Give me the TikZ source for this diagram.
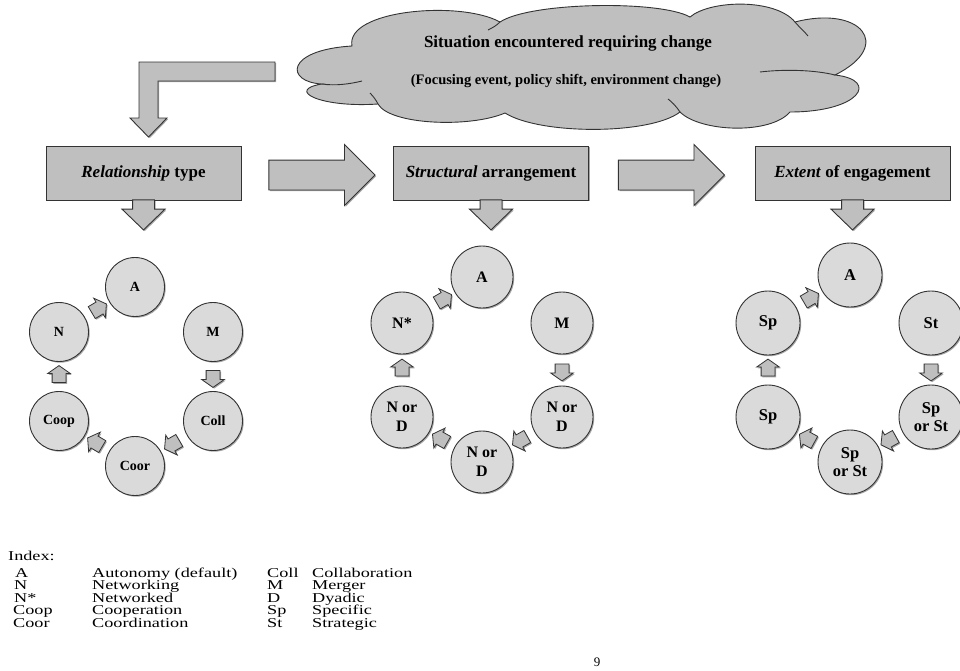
\documentclass[tikz,border=0pt]{standalone}
\usepackage{fontspec}
\setmainfont{Liberation Serif}
\newfontfamily\idxfont[FakeStretch=1.35]{Liberation Serif}
\usetikzlibrary{shapes.arrows,shadows}
\definecolor{boxgray}{HTML}{BFBFBF}
\definecolor{circgray}{HTML}{DADADA}
\definecolor{edge}{HTML}{333333}
\begin{document}
\begin{tikzpicture}[x=1pt,y=-1pt,
  shade/.style={drop shadow={shadow xshift=1.2pt,shadow yshift=-1.2pt,opacity=0.35,fill=black}},
  stagebox/.style={draw=edge, line width=0.9pt, fill=boxgray, minimum width=195pt, minimum height=54pt,
    inner sep=0pt, font=\fontsize{17}{20}\selectfont\bfseries, shade},
  bigright/.style={single arrow, draw=edge, line width=0.9pt, fill=boxgray, minimum height=106pt,
    inner xsep=0pt, inner ysep=14.5pt, single arrow head extend=15.5pt, single arrow tip angle=90, shade},
  bigdown/.style={single arrow, draw=edge, line width=0.9pt, fill=boxgray, minimum height=30pt,
    inner xsep=0pt, inner ysep=10.5pt, single arrow head extend=10.5pt, single arrow tip angle=92,
    rotate=-90, anchor=tail, shade},
  smallarr/.style={single arrow, draw=edge, line width=0.8pt, fill=boxgray, minimum height=17pt,
    inner xsep=0pt, inner ysep=6.5pt, single arrow head extend=4.5pt, single arrow tip angle=110,
    sloped, allow upside down, midway, shade},
  circA/.style={circle, draw=edge, line width=0.9pt, fill=circgray, inner sep=0pt, align=center,
    minimum size=59pt, font=\fontsize{14}{17}\selectfont\bfseries, shade},
  circB/.style={circA, minimum size=62pt, font=\fontsize{16}{19}\selectfont\bfseries},
  circC/.style={circA, minimum size=64pt, font=\fontsize{16.5}{18}\selectfont\bfseries},
  idx/.style={anchor=base west, inner sep=0pt, font=\idxfont\fontsize{13.5}{15}\selectfont}
]
\useasboundingbox (0,0) rectangle (960,670);

% cloud
\draw[edge, line width=0.9pt, fill=boxgray]
  (322,84) .. controls (285,82) and (285,50) .. (352,46)
  .. controls (345,10) and (460,0) .. (500,22)
  .. controls (530,2) and (660,0) .. (690,17)
  .. controls (710,0) and (775,-2) .. (795,22)
  .. controls (860,5) and (895,45) .. (835,75)
  .. controls (880,80) and (860,112) .. (790,112)
  .. controls (770,135) and (700,132) .. (680,112)
  .. controls (650,135) and (540,135) .. (505,113)
  .. controls (470,128) and (390,125) .. (378,104)
  .. controls (320,108) and (285,90) .. (322,84) -- cycle;
\draw[edge, line width=0.9pt]
  (322,84) .. controls (335,86) and (350,84) .. (362,81)
  (835,75) .. controls (815,70) and (785,69) .. (760,72)
  (795,22) .. controls (800,28) and (805,32) .. (808,36)
  (500,22) .. controls (496,26) and (492,28) .. (488,30)
  (680,112) .. controls (676,106) and (672,102) .. (668,99)
  (378,104) .. controls (376,100) and (373,96) .. (370,93);
\node[inner sep=0pt, font=\fontsize{17}{20}\selectfont\bfseries] (ct1) at (568,43) {Situation encountered requiring change};
\node[inner sep=0pt, font=\fontsize{14.5}{18}\selectfont\bfseries] (ct2) at (566,81) {(Focusing event, policy shift, environment change)};

% elbow arrow from cloud to first box
\draw[edge, line width=0.9pt, fill=boxgray, shade] (275,62) -- (139,62) -- (139,118) -- (130,118) -- (148.5,137)
  -- (167,118) -- (158,118) -- (158,81) -- (275,81) -- cycle;

% stage boxes
\node[stagebox] (b1) at (143.5,173) {\textit{Relationship} type};
\node[stagebox] (b2) at (491,173) {\textit{Structural} arrangement};
\node[stagebox] (b3) at (852.5,173) {\textit{Extent} of engagement};

% big arrows between boxes
\node[bigright, anchor=tail] (r1) at ([xshift=27pt,yshift=-2pt]b1.east) {};
\node[bigright, anchor=tail] (r2) at ([xshift=29pt,yshift=-2pt]b2.east) {};

% down arrows under boxes
\node[bigdown] (d1) at ([yshift=1pt]b1.south) {};
\node[bigdown] (d2) at ([yshift=1pt]b2.south) {};
\node[bigdown] (d3) at ([yshift=1pt]b3.south) {};

% panel 1
\node[circA] (a1) at (135,287) {A};
\node[circA] (n1) at (59,332) {N};
\node[circA] (m1) at (213,332) {M};
\node[circA] (coll1) at (213,421) {Coll};
\node[circA] (coop1) at (59,421) {Coop};
\node[circA] (coor1) at (135,466) {Coor};
\path (m1) -- (coll1) node[smallarr] {};
\path (coll1) -- (coor1) node[smallarr] {};
\path (coor1) -- (coop1) node[smallarr] {};
\path (coop1) -- (n1) node[smallarr] {};
\path (n1) -- (a1) node[smallarr] {};

% panel 2
\node[circB] (a2) at (482,277) {A};
\node[circB] (n2) at (402,323) {N*};
\node[circB] (m2) at (562,323) {M};
\node[circB] (r2c) at (562,417) {N or\\D};
\node[circB] (l2c) at (402,417) {N or\\D};
\node[circB] (b2c) at (482,462) {N or\\D};
\path (m2) -- (r2c) node[smallarr] {};
\path (r2c) -- (b2c) node[smallarr] {};
\path (b2c) -- (l2c) node[smallarr] {};
\path (l2c) -- (n2) node[smallarr] {};
\path (n2) -- (a2) node[smallarr] {};

% panel 3
\node[circC] (a3) at (850,275) {A};
\node[circC] (s3) at (768,323) {Sp};
\node[circC] (st3) at (931,323) {St};
\node[circC] (r3c) at (931,417) {Sp\\or St};
\node[circC] (l3c) at (768,417) {Sp};
\node[circC] (b3c) at (850,462) {Sp\\or St};
\path (st3) -- (r3c) node[smallarr] {};
\path (r3c) -- (b3c) node[smallarr] {};
\path (b3c) -- (l3c) node[smallarr] {};
\path (l3c) -- (s3) node[smallarr] {};
\path (s3) -- (a3) node[smallarr] {};

% index
\node[idx] (ix) at (8,560) {Index:};
\node[idx] (k1) at (15,577) {A};
\node[idx] (k2) at (14,589.5) {N};
\node[idx] (k3) at (14,602) {N*};
\node[idx] (k4) at (13,614.5) {Coop};
\node[idx] (k5) at (13,627) {Coor};
\node[idx] (v1) at (92,577) {Autonomy (default)};
\node[idx] (v2) at (92,589.5) {Networking};
\node[idx] (v3) at (92,602) {Networked};
\node[idx] (v4) at (92,614.5) {Cooperation};
\node[idx] (v5) at (92,627) {Coordination};
\node[idx] (k6) at (267,577) {Coll};
\node[idx] (k7) at (267,589.5) {M};
\node[idx] (k8) at (267,602) {D};
\node[idx] (k9) at (267,614.5) {Sp};
\node[idx] (k10) at (267,627) {St};
\node[idx] (v6) at (312,577) {Collaboration};
\node[idx] (v7) at (312,589.5) {Merger};
\node[idx] (v8) at (312,602) {Dyadic};
\node[idx] (v9) at (312,614.5) {Specific};
\node[idx] (v10) at (312,627) {Strategic};

\node[inner sep=0pt, font=\fontsize{13}{15}\selectfont] (pg) at (597,662) {9};
\end{tikzpicture}
\end{document}
